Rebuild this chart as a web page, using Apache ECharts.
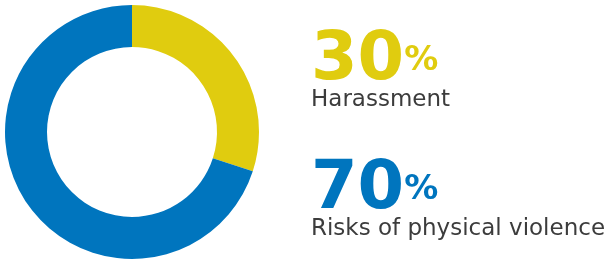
<!DOCTYPE html>
<html>
<head>
<meta charset="utf-8">
<script src="https://cdn.jsdelivr.net/npm/echarts@6/dist/echarts.min.js"></script>
<style>
  html, body { margin: 0; padding: 0; background: #fff; }
  #chart { width: 614px; height: 265px; }
</style>
</head>
<body>
<div id="chart"></div>
<script>
// data
const categories = ['Harassment', 'Risks of physical violence'];
const values = [30, 70];
const colors = ['#e0cc0f', '#0075be'];

const chart = echarts.init(document.getElementById('chart'), null, { renderer: 'canvas' });

// right hand labels: big percent + caption
let graphic = [];
const rowTop = [28, 157];
for (let i = 0; i < categories.length; i++) {
  graphic.push({
    type: 'text',
    left: 311,
    top: rowTop[i],
    style: {
      rich: {
        num: { fontFamily: 'DejaVu Sans', fontWeight: 'bold', fontSize: 67, fill: colors[i] },
        pct: { fontFamily: 'DejaVu Sans', fontWeight: 'bold', fontSize: 34, fill: colors[i] }
      },
      text: '{num|' + values[i] + '}{pct|%}'
    }
  });
  graphic.push({
    type: 'text',
    left: 311,
    top: rowTop[i] + 61,
    style: {
      text: categories[i],
      fontFamily: 'DejaVu Sans',
      fontSize: 23,
      fill: '#3c3c3c'
    }
  });
}

let option = {
  animation: false,
  series: [{
    type: 'pie',
    center: [132, 132],
    radius: [85, 127],
    startAngle: 90,
    clockwise: true,
    label: { show: false },
    labelLine: { show: false },
    silent: true,
    data: categories.map((c, i) => ({ name: c, value: values[i], itemStyle: { color: colors[i] } }))
  }],
  graphic: graphic
};
chart.setOption(option);
</script>
</body>
</html>
